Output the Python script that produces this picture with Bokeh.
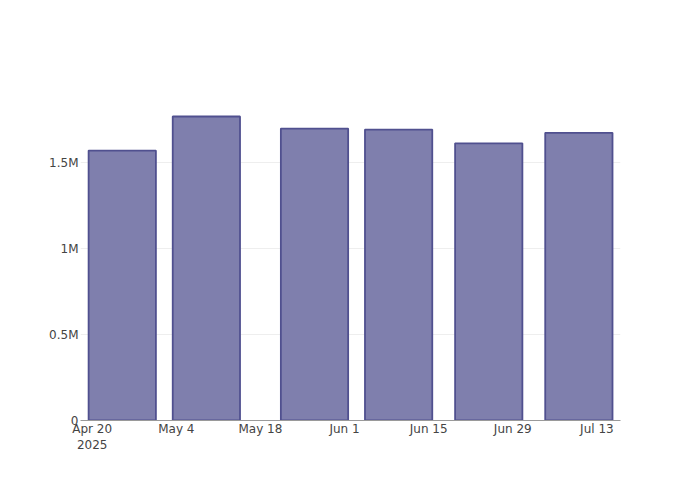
from datetime import datetime, timedelta

from bokeh.plotting import figure
from bokeh.models import FixedTicker, Range1d
from bokeh.embed import file_html
from bokeh.resources import INLINE

# ---- data ----
dates = [datetime(2025, 4, 25), datetime(2025, 5, 9), datetime(2025, 5, 27),
         datetime(2025, 6, 10), datetime(2025, 6, 25), datetime(2025, 7, 10)]
values = [1570000, 1768000, 1698000, 1692000, 1612000, 1673000]

x_tick_dates = [datetime(2025, 4, 20), datetime(2025, 5, 4), datetime(2025, 5, 18),
                datetime(2025, 6, 1), datetime(2025, 6, 15), datetime(2025, 6, 29),
                datetime(2025, 7, 13)]
x_tick_labels = ["Apr 20\n2025", "May 4", "May 18", "Jun 1", "Jun 15", "Jun 29", "Jul 13"]

y_ticks = [0, 500000, 1000000, 1500000]
y_tick_labels = ["0", "0.5M", "1M", "1.5M"]

# ---- figure ----
EPOCH = datetime(1970, 1, 1)


def ms(d):
    return (d - EPOCH).total_seconds() * 1000.0


x_start = datetime(2025, 4, 20) - timedelta(days=1.95)
x_end = datetime(2025, 4, 20) + timedelta(days=87.93)

p = figure(width=684, height=484, x_axis_type="datetime",
           output_backend="svg", toolbar_location=None,
           x_range=Range1d(x_start, x_end), y_range=Range1d(0, 1861000),
           min_border_left=80, min_border_right=64,
           min_border_top=100, min_border_bottom=64)

p.outline_line_color = None
p.background_fill_color = "white"
p.border_fill_color = "white"

bar_width = timedelta(days=11.2).total_seconds() * 1000.0
p.vbar(x=dates, top=values, width=bar_width, bottom=0,
       fill_color="#7f7fad", fill_alpha=1.0,
       line_color="#50508f", line_width=1.8)

# x axis
xax = p.xaxis[0]
xt = [ms(d) for d in x_tick_dates]
xax.ticker = FixedTicker(ticks=xt)
xax.major_label_overrides = {t: lab for t, lab in zip(xt, x_tick_labels)}
xax.axis_line_color = "#9a9a9a"
xax.axis_line_width = 1
xax.major_tick_line_color = None
xax.minor_tick_line_color = None
xax.major_tick_out = 0
xax.major_tick_in = 0
xax.major_label_standoff = 1
xax.major_label_text_font = "DejaVu Sans"
xax.major_label_text_font_size = "12px"
xax.major_label_text_color = "#444444"

# y axis
yax = p.yaxis[0]
yax.ticker = FixedTicker(ticks=y_ticks)
yax.major_label_overrides = {t: lab for t, lab in zip(y_ticks, y_tick_labels)}
yax.axis_line_color = None
yax.major_tick_line_color = None
yax.minor_tick_line_color = None
yax.major_tick_out = 0
yax.major_tick_in = 0
yax.major_label_standoff = 2
yax.major_label_text_font = "DejaVu Sans"
yax.major_label_text_font_size = "12px"
yax.major_label_text_color = "#444444"

p.xgrid.grid_line_color = None
p.ygrid.grid_line_color = "#eeeeee"
p.ygrid.grid_line_width = 1

open("out.html", "w").write(file_html(p, INLINE))
